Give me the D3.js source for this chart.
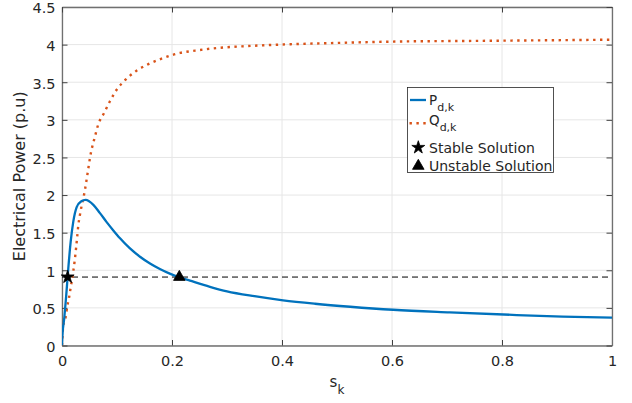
<!DOCTYPE html>
<html>
<head>
<meta charset="utf-8">
<script src="https://cdn.jsdelivr.net/npm/d3@7"></script>
<style>
  html, body { margin: 0; padding: 0; background: #fff; }
  svg { display: block; font-family: "DejaVu Sans", sans-serif; }
</style>
</head>
<body>
<svg id="chart" width="632" height="403"></svg>
<script>
// ---- data ----
const slipP = [0, 0.0006, 0.0042, 0.0075, 0.0115, 0.0158, 0.0206, 0.0267, 0.0345, 0.043, 0.057, 0.069, 0.0812, 0.0933, 0.1055, 0.1236, 0.1418, 0.16, 0.178, 0.196, 0.2133, 0.2327, 0.269, 0.30, 0.35, 0.402, 0.46, 0.524, 0.602, 0.705, 0.827, 0.91, 1.0];
const powerP = [0, 0.117, 0.37, 0.65, 1.03, 1.38, 1.65, 1.84, 1.915, 1.935, 1.87, 1.76, 1.64, 1.53, 1.425, 1.29, 1.18, 1.09, 1.017, 0.955, 0.907, 0.862, 0.78, 0.72, 0.655, 0.60, 0.555, 0.515, 0.475, 0.44, 0.405, 0.385, 0.37];

const slipQ = [0, 0.0024, 0.0067, 0.0097, 0.0127, 0.0151, 0.0176, 0.0206, 0.0236, 0.0273, 0.0297, 0.0327, 0.0358, 0.04, 0.0442, 0.048, 0.0515, 0.06, 0.066, 0.0758, 0.0867, 0.0994, 0.115, 0.135, 0.157, 0.18, 0.215, 0.242, 0.275, 0.336, 0.396, 0.487, 0.602, 0.76, 1.0];
const powerQ = [0, 0.27, 0.38, 0.525, 0.63, 0.74, 0.85, 0.99, 1.16, 1.42, 1.6, 1.74, 1.86, 2.0, 2.18, 2.36, 2.52, 2.78, 2.94, 3.08, 3.24, 3.40, 3.53, 3.65, 3.74, 3.81, 3.89, 3.92, 3.95, 3.98, 4.0, 4.02, 4.04, 4.05, 4.065];

const demandLevel = 0.91;
const stablePoint = { s: 0.0103, p: 0.91 };
const unstablePoint = { s: 0.2133, p: 0.91 };

const xTicks = [0, 0.2, 0.4, 0.6, 0.8, 1];
const xTickLabels = ["0", "0.2", "0.4", "0.6", "0.8", "1"];
const yTicks = [0, 0.5, 1, 1.5, 2, 2.5, 3, 3.5, 4, 4.5];
const yTickLabels = ["0", "0.5", "1", "1.5", "2", "2.5", "3", "3.5", "4", "4.5"];

// ---- drawing ----
const svg = d3.select("#chart");
const L = 62, R = 612, T = 7, B = 345.5;
const x = d3.scaleLinear().domain([0, 1]).range([L, R]);
const y = d3.scaleLinear().domain([0, 4.5]).range([B, T]);
const textColor = "#262626";

// grid
const grid = svg.append("g");
grid.selectAll(".gx").data(xTicks).join("line")
  .attr("x1", d => x(d)).attr("x2", d => x(d)).attr("y1", T).attr("y2", B)
  .attr("stroke", "#e6e6e6").attr("stroke-width", 1);
grid.selectAll(".gy").data(yTicks).join("line")
  .attr("x1", L).attr("x2", R).attr("y1", d => y(d)).attr("y2", d => y(d))
  .attr("stroke", "#e6e6e6").attr("stroke-width", 1);

// axes (bottom, left with labels; top, right ticks only)
const tickLen = 5.5;
const xAxis = d3.axisBottom(x).tickValues(xTicks).tickFormat((d, i) => xTickLabels[i]).tickSizeInner(-tickLen).tickSizeOuter(0).tickPadding(12);
const yAxis = d3.axisLeft(y).tickValues(yTicks).tickFormat((d, i) => yTickLabels[i]).tickSizeInner(-tickLen).tickSizeOuter(0).tickPadding(12);
const xTop = d3.axisTop(x).tickValues(xTicks).tickFormat("").tickSizeInner(-tickLen).tickSizeOuter(0);
const yRight = d3.axisRight(y).tickValues(yTicks).tickFormat("").tickSizeInner(-tickLen).tickSizeOuter(0);

function styleAxis(g) {
  g.select(".domain").attr("stroke", "#707070").attr("stroke-width", 1.3);
  g.selectAll(".tick line").attr("stroke", "#404040").attr("stroke-width", 1);
  g.selectAll(".tick text").attr("fill", textColor).attr("font-size", 14.5).attr("font-family", "DejaVu Sans, sans-serif");
}
svg.append("g").attr("transform", `translate(0,${B})`).call(xAxis).call(styleAxis)
  .selectAll(".tick text").attr("dy", "0.71em").attr("y", 10);
svg.append("g").attr("transform", `translate(${L},0)`).call(yAxis).call(styleAxis)
  .selectAll(".tick text").attr("dy", "0.4em").attr("x", -6.5);
svg.append("g").attr("transform", `translate(0,${T})`).call(xTop).call(styleAxis);
svg.append("g").attr("transform", `translate(${R},0)`).call(yRight).call(styleAxis);

// axis labels
const xl = svg.append("text").attr("x", 337).attr("y", 387).attr("text-anchor", "middle")
  .attr("fill", textColor).attr("font-size", 15);
xl.append("tspan").text("s");
xl.append("tspan").attr("dy", 7).attr("font-size", 12).text("k");

svg.append("text").attr("transform", `translate(25,${(T + B) / 2}) rotate(-90)`)
  .attr("text-anchor", "middle").attr("fill", textColor).attr("font-size", 16)
  .text("Electrical Power (p.u)");

// clip
svg.append("clipPath").attr("id", "clip").append("rect")
  .attr("x", L).attr("y", T).attr("width", R - L).attr("height", B - T);
const plot = svg.append("g").attr("clip-path", "url(#clip)");

// demand line
plot.append("line").attr("x1", x(0)).attr("x2", x(1))
  .attr("y1", y(demandLevel)).attr("y2", y(demandLevel))
  .attr("stroke", "#000").attr("stroke-width", 1).attr("stroke-dasharray", "6,4");

const lineGen = d3.line().x(d => x(d[0])).y(d => y(d[1])).curve(d3.curveMonotoneX);

// Q curve
plot.append("path").datum(d3.zip(slipQ, powerQ))
  .attr("d", lineGen).attr("fill", "none").attr("stroke", "#D95319")
  .attr("stroke-width", 2.4).attr("stroke-dasharray", "2.4,4.5");

// P curve
plot.append("path").datum(d3.zip(slipP, powerP))
  .attr("d", lineGen).attr("fill", "none").attr("stroke", "#0072BD")
  .attr("stroke-width", 2.3);

// markers
const star = d3.symbol(d3.symbolStar, 52);
const tri = d3.symbol(d3.symbolTriangle, 58);
svg.append("path").attr("d", star).attr("transform", `translate(${x(stablePoint.s)},${y(stablePoint.p)})`)
  .attr("fill", "#000").attr("stroke", "#000").attr("stroke-width", 0.8);
svg.append("path").attr("d", tri).attr("transform", `translate(${x(unstablePoint.s)},${y(unstablePoint.p)})`)
  .attr("fill", "#000").attr("stroke", "#000").attr("stroke-width", 0.8);

// legend
const lg = svg.append("g");
lg.append("rect").attr("x", 407.5).attr("y", 87.5).attr("width", 146).attr("height", 85)
  .attr("fill", "#fff").attr("stroke", "#262626").attr("stroke-width", 0.8);
lg.append("line").attr("x1", 410).attr("x2", 426).attr("y1", 100).attr("y2", 100)
  .attr("stroke", "#0072BD").attr("stroke-width", 2.3);
lg.append("line").attr("x1", 409.5).attr("x2", 427).attr("y1", 123.3).attr("y2", 123.3)
  .attr("stroke", "#D95319").attr("stroke-width", 2.4).attr("stroke-dasharray", "2.4,4.5");
lg.append("path").attr("d", star).attr("transform", "translate(418.3,147.5)")
  .attr("fill", "#000").attr("stroke", "#000").attr("stroke-width", 0.8);
lg.append("path").attr("d", tri).attr("transform", "translate(418.3,166)")
  .attr("fill", "#000").attr("stroke", "#000").attr("stroke-width", 0.8);

const t1 = lg.append("text").attr("x", 429).attr("y", 104.5).attr("fill", textColor).attr("font-size", 13.5);
t1.append("tspan").text("P");
t1.append("tspan").attr("dy", 6).attr("font-size", 11).text("d,k");
const t2 = lg.append("text").attr("x", 429).attr("y", 124.5).attr("fill", textColor).attr("font-size", 13.5);
t2.append("tspan").text("Q");
t2.append("tspan").attr("dy", 6).attr("font-size", 11).text("d,k");
lg.append("text").attr("x", 429).attr("y", 152.5).attr("fill", textColor).attr("font-size", 14).text("Stable Solution");
lg.append("text").attr("x", 429).attr("y", 170.5).attr("fill", textColor).attr("font-size", 14).text("Unstable Solution");
</script>
</body>
</html>
